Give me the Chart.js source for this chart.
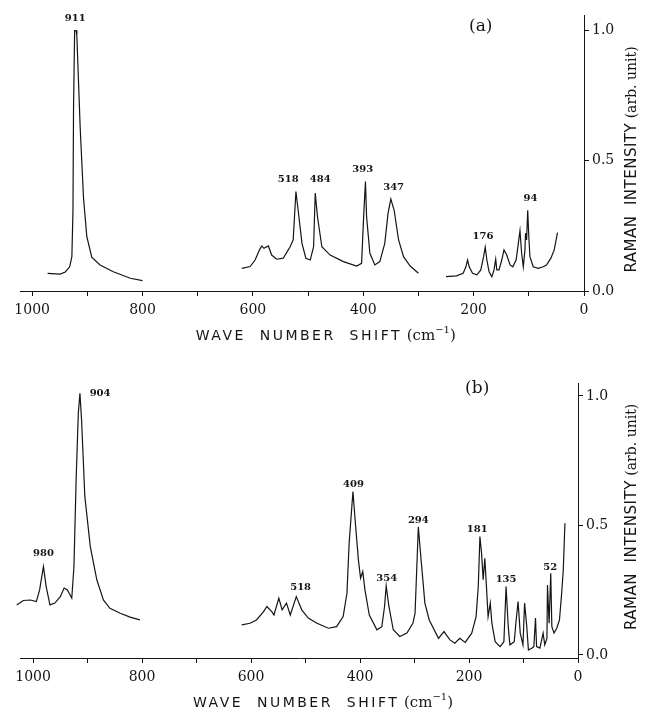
<!DOCTYPE html>
<html>
<head>
<meta charset="utf-8">
<script src="https://cdn.jsdelivr.net/npm/chart.js@4.4.1/dist/chart.umd.min.js"></script>
<style>
  html, body { margin: 0; padding: 0; background: #fff; }
  .panel { position: relative; width: 651px; }
  #panelA { height: 358px; }
  #panelB { height: 359px; }
</style>
</head>
<body>
<div class="panel" id="panelA"><canvas id="chartA"></canvas></div>
<div class="panel" id="panelB"><canvas id="chartB"></canvas></div>
<script>
// tick values (cm-1 and intensity)
const xTickValues = [0, 100, 200, 300, 400, 500, 600, 700, 800, 900, 1000];
const yTickValues = [0, 0.5, 1.0];

// ---- spectrum (a), three recorded pieces ----
const waveA1 = [972, 949, 940, 932, 928, 926, 925, 923, 920, 919, 913, 907, 901, 892, 877, 853, 822, 800];
const intA1 = [0.068, 0.065, 0.073, 0.093, 0.132, 0.31, 0.70, 1.0, 1.0, 0.98, 0.63, 0.36, 0.21, 0.13, 0.10, 0.074, 0.049, 0.040];

const waveA2 = [620, 605, 596, 588, 584, 580, 572, 566, 557, 545, 536, 533, 527, 522, 518, 511, 504, 496, 490, 487,
  483, 475, 460, 436, 412, 403, 399, 396, 394, 388, 379, 370, 361, 355, 350, 344, 336, 327, 315, 300];
const intA2 = [0.087, 0.094, 0.119, 0.158, 0.173, 0.164, 0.173, 0.138, 0.122, 0.126, 0.158, 0.168, 0.196, 0.382, 0.31, 0.183, 0.126, 0.119, 0.17, 0.376,
  0.286, 0.17, 0.138, 0.113, 0.096, 0.106, 0.30, 0.42, 0.286, 0.145, 0.10, 0.113, 0.183, 0.30, 0.353, 0.31, 0.196, 0.132, 0.096, 0.068];

const waveA3 = [250, 231, 219, 214, 211, 208, 202, 194, 187, 182, 179, 176, 172, 167, 163, 160, 158, 154, 149, 145,
  140, 134, 129, 123, 119, 116, 113, 110, 107, 106, 104, 102, 100, 98, 92, 83, 74, 68, 60, 54, 48];
const intA3 = [0.055, 0.058, 0.068, 0.093, 0.119, 0.093, 0.068, 0.062, 0.081, 0.132, 0.168, 0.119, 0.074, 0.055, 0.081, 0.122, 0.081, 0.081, 0.119, 0.158,
  0.138, 0.10, 0.093, 0.119, 0.183, 0.232, 0.145, 0.093, 0.158, 0.222, 0.196, 0.31, 0.209, 0.132, 0.093, 0.087, 0.093, 0.10, 0.126, 0.158, 0.224];

const peakTextA = ["911", "518", "484", "393", "347", "176", "94"];
const peakXA = [922, 536, 478, 401, 345, 183, 97];
const peakYA = [1.045, 0.427, 0.427, 0.468, 0.399, 0.209, 0.357];

// ---- spectrum (b), two recorded pieces ----
const waveB1 = [1030, 1018, 1005, 994, 988, 981, 976, 969, 960, 950, 943, 937, 929, 925, 921, 917, 914, 911, 905, 895,
  883, 871, 859, 840, 822, 804];
const intB1 = [0.193, 0.21, 0.212, 0.206, 0.251, 0.341, 0.264, 0.193, 0.20, 0.225, 0.258, 0.251, 0.219, 0.341, 0.676, 0.933, 1.01, 0.907, 0.611, 0.418,
  0.29, 0.212, 0.18, 0.161, 0.146, 0.135];

const waveB2 = [617, 602, 590, 577, 571, 562, 558, 549, 543, 535, 528, 517, 507, 495, 479, 458, 443, 431, 424, 420,
  413, 409, 403, 399, 395, 391, 383, 369, 360, 355, 352, 347, 339, 327, 314, 303, 299, 293, 289, 281,
  273, 256, 246, 235, 226, 217, 207, 195, 187, 183, 180, 177, 174, 171, 168, 165, 161, 158, 152, 143,
  136, 132, 128, 125, 117, 114, 110, 106, 101, 98, 94, 91, 85, 81, 78, 76, 70, 64, 61, 57,
  56, 53, 50, 48, 44, 39, 34, 30, 27, 24];
const intB2 = [0.116, 0.122, 0.135, 0.167, 0.187, 0.167, 0.154, 0.219, 0.174, 0.20, 0.154, 0.225, 0.174, 0.142, 0.122, 0.103, 0.109, 0.148, 0.238, 0.431,
  0.631, 0.521, 0.367, 0.296, 0.322, 0.251, 0.154, 0.097, 0.109, 0.187, 0.266, 0.187, 0.097, 0.071, 0.084, 0.122, 0.161, 0.495, 0.393, 0.20,
  0.135, 0.064, 0.09, 0.058, 0.045, 0.064, 0.048, 0.084, 0.148, 0.264, 0.457, 0.393, 0.29, 0.373, 0.264, 0.148, 0.20, 0.122, 0.051, 0.032,
  0.051, 0.264, 0.109, 0.039, 0.051, 0.122, 0.206, 0.084, 0.039, 0.20, 0.109, 0.019, 0.026, 0.032, 0.142, 0.032, 0.026, 0.084, 0.039, 0.064,
  0.27, 0.122, 0.315, 0.109, 0.084, 0.103, 0.135, 0.238, 0.328, 0.508];

const peakTextB = ["980", "904", "518", "409", "354", "294", "181", "135", "52"];
const peakXB = [981, 877, 509, 412, 351, 293, 185, 132, 51];
const peakYB = [0.39, 1.01, 0.26, 0.66, 0.296, 0.521, 0.483, 0.293, 0.339];

const xTitle = "WAVE  NUMBER  SHIFT";
const yTitle = "RAMAN  INTENSITY";
const ink = "#151515";

// draw a row of text pieces with different fonts, centred at (cx, cy)
function drawRuns(ctx, runs, cx, cy) {
  let total = 0;
  runs.forEach(r => {
    ctx.font = r.font;
    ctx.letterSpacing = r.spacing || "0px";
    r.w = ctx.measureText(r.text).width;
    total += r.w;
  });
  let x = cx - total / 2;
  ctx.textAlign = "left";
  ctx.textBaseline = "middle";
  runs.forEach(r => {
    ctx.font = r.font;
    ctx.letterSpacing = r.spacing || "0px";
    ctx.fillText(r.text, x, cy + (r.dy || 0));
    x += r.w;
  });
  ctx.letterSpacing = "0px";
}

function textPlugin(cfg) {
  return {
    id: "texts",
    afterDatasetsDraw(chart) {
      const { ctx, chartArea, scales } = chart;
      ctx.save();
      ctx.fillStyle = ink;
      ctx.textAlign = "center";
      ctx.textBaseline = "middle";
      ctx.font = 'bold 10px "DejaVu Serif"';
      cfg.peakText.forEach((t, i) => {
        ctx.fillText(t, scales.x.getPixelForValue(cfg.peakX[i]), scales.y.getPixelForValue(cfg.peakY[i]));
      });
      ctx.font = '17px "DejaVu Serif"';
      ctx.fillText(cfg.panel, scales.x.getPixelForValue(cfg.panelX), scales.y.getPixelForValue(cfg.panelY));

      // x axis title
      drawRuns(ctx, [
        { text: xTitle, font: '14px "DejaVu Sans"', spacing: "2.5px" },
        { text: " (cm", font: '15px "DejaVu Serif"' },
        { text: "\u22121", font: '10px "DejaVu Serif"', dy: -6 },
        { text: ")", font: '15px "DejaVu Serif"' }
      ], scales.x.getPixelForValue(468), chartArea.bottom + 45);

      // y axis title, read bottom to top on the right
      ctx.translate(chart.width - 19, scales.y.getPixelForValue(cfg.yTitleAt));
      ctx.rotate(-Math.PI / 2);
      drawRuns(ctx, [
        { text: yTitle, font: '15px "DejaVu Sans"', spacing: "0.5px" },
        { text: " (arb. unit)", font: '14px "DejaVu Serif"' }
      ], 0, 0);
      ctx.restore();
    }
  };
}

function makeChart(canvasId, segments, cfg) {
  const datasets = segments.map(seg => ({
    data: seg.wave.map((w, i) => ({ x: w, y: seg.inten[i] })),
    borderColor: ink,
    borderWidth: 1.2,
    pointRadius: 0,
    tension: 0,
    fill: false,
    clip: false
  }));

  return new Chart(document.getElementById(canvasId), {
    type: "line",
    data: { datasets },
    options: {
      responsive: true,
      maintainAspectRatio: false,
      animation: false,
      devicePixelRatio: 1,
      layout: { padding: { left: 20, top: cfg.top, right: 0, bottom: 0 } },
      plugins: { legend: { display: false }, tooltip: { enabled: false } },
      scales: {
        x: {
          type: "linear",
          reverse: true,
          min: 0,
          max: cfg.xMax,
          afterBuildTicks: s => { s.ticks = xTickValues.map(v => ({ value: v })); },
          afterFit: s => { s.height = cfg.xHeight; },
          ticks: {
            autoSkip: false,
            maxRotation: 0,
            padding: 6,
            color: ink,
            font: { family: "DejaVu Serif", size: 14 },
            callback: v => (v % 200 === 0 ? String(v) : "")
          },
          grid: { drawOnChartArea: false, drawTicks: true, tickLength: 5, color: ink },
          border: { display: true, color: ink, width: 1 }
        },
        y: {
          type: "linear",
          position: "right",
          min: cfg.yMin,
          max: cfg.yMax,
          afterBuildTicks: s => { s.ticks = yTickValues.map(v => ({ value: v })); },
          afterFit: s => { s.width = cfg.yWidth; },
          ticks: {
            padding: 3,
            color: ink,
            font: { family: "DejaVu Serif", size: 14 },
            callback: v => Number(v).toFixed(1)
          },
          grid: { drawOnChartArea: false, drawTicks: true, tickLength: 5, color: ink },
          border: { display: true, color: ink, width: 1 }
        }
      }
    },
    plugins: [textPlugin(cfg)]
  });
}

makeChart("chartA", [
  { wave: waveA1, inten: intA1 },
  { wave: waveA2, inten: intA2 },
  { wave: waveA3, inten: intA3 }
], {
  top: 15, xMax: 1022, xHeight: 67, yWidth: 67, yMin: 0, yMax: 1.06,
  peakText: peakTextA, peakX: peakXA, peakY: peakYA,
  panel: "(a)", panelX: 187, panelY: 1.015, yTitleAt: 0.505
});

makeChart("chartB", [
  { wave: waveB1, inten: intB1 },
  { wave: waveB2, inten: intB2 }
], {
  top: 25, xMax: 1024, xHeight: 59, yWidth: 73, yMin: -0.012, yMax: 1.05,
  peakText: peakTextB, peakX: peakXB, peakY: peakYB,
  panel: "(b)", panelX: 185, panelY: 1.03, yTitleAt: 0.533
});
</script>
</body>
</html>
